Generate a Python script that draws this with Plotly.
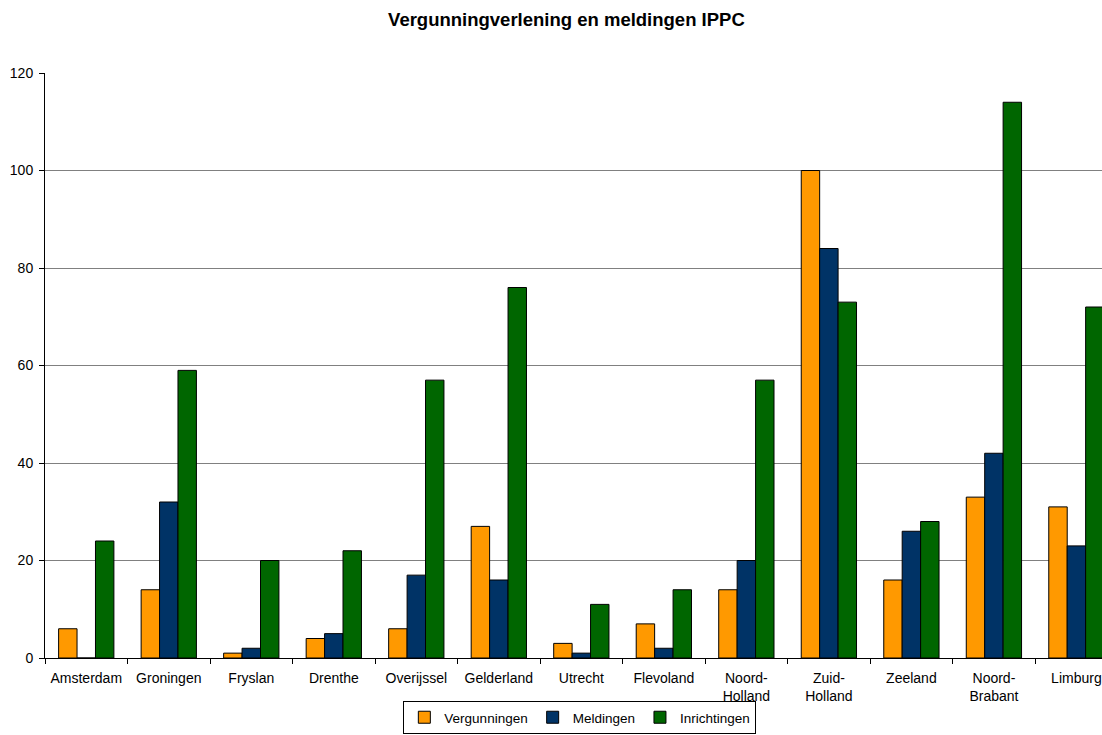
import plotly.graph_objects as go

# Provincies / categorieen
provincies = ["Amsterdam", "Groningen", "Fryslan", "Drenthe", "Overijssel", "Gelderland",
              "Utrecht", "Flevoland", "Noord-<br>Holland", "Zuid-<br>Holland", "Zeeland",
              "Noord-<br>Brabant", "Limburg"]

vergunningen = [6, 14, 1, 4, 6, 27, 3, 7, 14, 100, 16, 33, 31]
meldingen = [0, 32, 2, 5, 17, 16, 1, 2, 20, 84, 26, 42, 23]
inrichtingen = [24, 59, 20, 22, 57, 76, 11, 14, 57, 73, 28, 114, 72]

y_ticks = [0, 20, 40, 60, 80, 100, 120]

fig = go.Figure()

series = [
    ("Vergunningen", vergunningen, "#FF9900"),
    ("Meldingen", meldingen, "#003366"),
    ("Inrichtingen", inrichtingen, "#006600"),
]
for naam, waarden, kleur in series:
    fig.add_trace(go.Bar(
        x=provincies, y=waarden, name=naam,
        marker=dict(color=kleur, line=dict(color="black", width=1)),
    ))

fig.update_layout(
    width=1102, height=735,
    barmode="group",
    bargap=0.33, bargroupgap=0,
    plot_bgcolor="white", paper_bgcolor="white",
    font=dict(family="Liberation Sans, Arial, sans-serif", size=14, color="black"),
    title=dict(text="<b>Vergunningverlening en meldingen IPPC</b>",
               x=0.514, xanchor="center", y=0.973, yanchor="middle",
               font=dict(size=18.5)),
    margin=dict(l=45, r=0, t=73, b=77),
    xaxis=dict(
        range=[-0.5, 12.31],
        automargin=False,
        showline=True, linecolor="black", linewidth=1,
        ticks="outside", tickson="boundaries", ticklen=5, tickcolor="black",
        ticklabelstandoff=7,
        showgrid=False,
    ),
    yaxis=dict(
        range=[0, 120], tickvals=y_ticks,
        automargin=False,
        showline=True, linecolor="black", linewidth=1,
        ticks="outside", ticklen=5, tickcolor="black",
        ticklabelstandoff=3,
        showgrid=True, gridcolor="#808080", gridwidth=1,
        zeroline=False,
    ),
    legend=dict(
        orientation="h", x=0.506, xanchor="center",
        yref="container", y=0.0014, yanchor="bottom",
        bordercolor="black", borderwidth=1,
        font=dict(size=13.5),
        itemwidth=30, tracegroupgap=0,
    ),
)

# body-marge weg, anders schuift alles 8px op
fig.write_html("out.html", config={"displayModeBar": False},
               post_script="document.body.style.margin='0';")
